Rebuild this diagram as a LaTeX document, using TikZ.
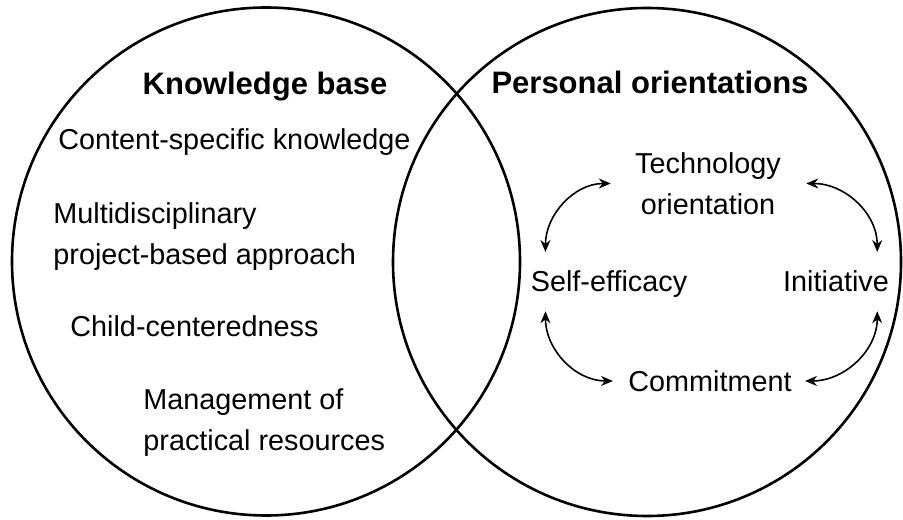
\documentclass[tikz,border=0pt]{standalone}
\usepackage{fontspec}
\setmainfont{Liberation Sans}
\usetikzlibrary{arrows.meta}
\begin{document}
\begin{tikzpicture}[x=0.5pt, y=0.5pt,
		title/.style={font=\fontsize{15.5}{19}\selectfont\bfseries, inner sep=0pt},
		item/.style={font=\fontsize{14.4}{20.5}\selectfont, inner sep=0pt},
		link/.style={{Stealth[length=6pt,width=5pt]}-{Stealth[length=6pt,width=5pt]}, line width=0.8pt}]
		\useasboundingbox (0, 0) rectangle (903, 519);
		\draw[line width=1.3pt] (266, 257.5) circle (254);
		\draw[line width=1.3pt] (647, 257) circle (254);
		\node[title, anchor=north] (kb) at (265, 447) {Knowledge base};
		\node[title, anchor=north] (po) at (650, 448) {Personal orientations};
		\node[item, anchor=north west] (csk) at (58, 391) {Content-specific knowledge};
		\node[item, anchor=north west, align=left] (mpb) at (53, 317) {Multidisciplinary\\project-based approach};
		\node[item, anchor=north west] (cc) at (70, 204) {Child-centeredness};
		\node[item, anchor=north west, align=left] (mpr) at (143, 131) {Management of\\practical resources};
		\node[item, anchor=north, align=center] (tech) at (708, 367) {Technology\\orientation};
		\node[item, anchor=north] (seff) at (609, 249) {Self-efficacy};
		\node[item, anchor=north] (init) at (836, 249) {Initiative};
		\node[item, anchor=north] (comm) at (710, 149) {Commitment};
		\draw[link] ([shift={(7.5pt,9pt)}]seff.north west) to[out=90, in=180] ([xshift=-12pt]tech.west);
		\draw[link] ([xshift=12.5pt]tech.east) to[out=0, in=90] ([shift={(-6pt,9pt)}]init.north east);
		\draw[link] ([shift={(7.5pt,-10pt)}]seff.base west) to[out=-90, in=180] ([xshift=-7.5pt]comm.west);
		\draw[link] ([shift={(-6pt,-10pt)}]init.base east) to[out=-90, in=0] ([xshift=6.5pt]comm.east);
	\end{tikzpicture}
\end{document}
